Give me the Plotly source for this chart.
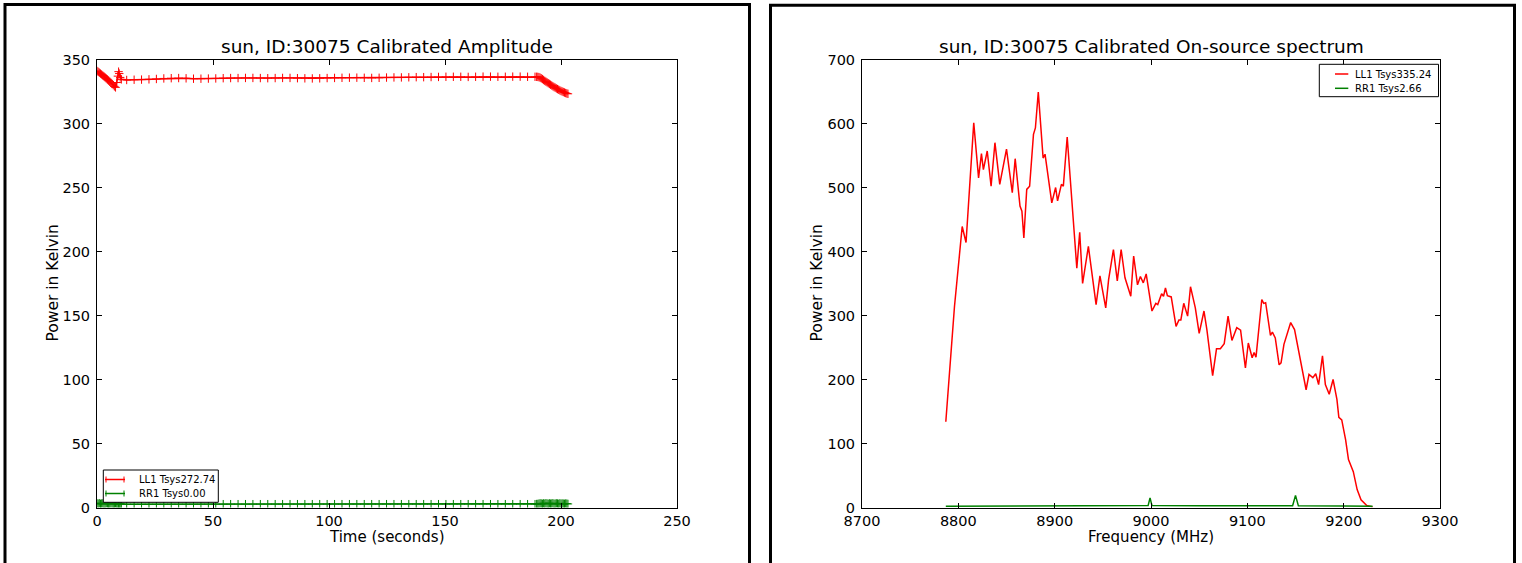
import plotly.graph_objects as go

# ---------------- data: left panel (amplitude vs time) ----------------
amp_time = [0.0, 0.5, 1.0, 1.5, 2.0, 2.5, 3.0, 3.5, 4.0, 4.5, 5.0, 5.5, 6.0, 6.5, 7.0, 7.5, 8.0,
            8.5, 9.0, 9.3, 9.6, 10.0, 10.5,
            12.8, 16.0, 19.2, 22.4, 25.6, 28.8, 32.0, 35.2, 38.4, 41.6, 44.8, 48.0, 51.2, 54.4,
            57.6, 60.8, 64.0, 67.2, 70.4, 73.6, 76.8, 80.0, 83.2, 86.4, 89.6, 92.8, 96.0, 99.2,
            102.4, 105.6, 108.8, 112.0, 115.2, 118.4, 121.6, 124.8, 128.0, 131.2, 134.4, 137.6,
            140.8, 144.0, 147.2, 150.4, 153.6, 156.8, 160.0, 163.2, 166.4, 169.6, 172.8, 176.0,
            179.2, 182.4, 185.6, 188.8,
            189.5, 190.0, 190.5, 191.0, 191.5, 192.0, 192.5, 193.0, 193.5, 194.0, 194.5, 195.0,
            195.5, 196.0, 196.5, 197.0, 197.5, 198.0, 198.5, 199.0, 199.5, 200.0, 200.5, 201.0,
            201.5, 202.0, 202.5, 203.0]

ll1_amp = [341.0, 340.4, 339.7, 339.0, 338.3, 337.5, 336.8, 336.0, 335.2, 334.4, 333.6, 332.7,
           331.8, 330.9, 330.0, 329.0, 328.2,
           332.0, 337.0, 340.5, 339.0, 336.0, 334.5,
           334.0, 334.2, 334.3, 334.5, 334.8, 335.2, 335.4, 335.5, 335.3, 335.0, 335.0, 335.1,
           335.2, 335.4, 335.5, 335.5, 335.6, 335.6, 335.5, 335.4, 335.5, 335.6, 335.6, 335.4,
           335.3, 335.2, 335.3, 335.5, 335.6, 335.7, 335.8, 335.8, 335.7, 335.6, 335.7, 335.9,
           336.0, 336.0, 336.1, 336.2, 336.2, 336.3, 336.4, 336.5, 336.5, 336.5, 336.4, 336.5,
           336.6, 336.6, 336.5, 336.5, 336.6, 336.6, 336.5, 336.5,
           336.5, 336.4, 336.2, 335.8, 335.3, 334.7, 334.0, 333.3, 332.7, 332.1, 331.5, 330.9,
           330.3, 329.7, 329.1, 328.5, 328.0, 327.4, 326.9, 326.4, 325.9, 325.4, 325.0, 324.6,
           324.2, 323.8, 323.5, 323.2]

rr1_amp = [3.2, 3.0, 3.3, 2.9, 3.1, 3.2, 2.8, 3.0, 3.3, 3.1, 2.9, 3.0, 3.2, 3.1, 2.9, 3.0, 3.2,
           3.0, 2.9, 3.1, 3.0, 2.8, 2.7,
           2.6, 2.6, 2.6, 2.6, 2.6, 2.6, 2.6, 2.6, 2.6, 2.6, 2.6, 2.6, 2.6, 2.6,
           2.6, 2.6, 2.6, 2.6, 2.6, 2.6, 2.6, 2.6, 2.6, 2.6, 2.6, 2.6, 2.6, 2.6,
           2.6, 2.6, 2.6, 2.6, 2.6, 2.6, 2.6, 2.6, 2.6, 2.6, 2.6, 2.6,
           2.6, 2.6, 2.6, 2.6, 2.6, 2.6, 2.6, 2.6, 2.6, 2.6, 2.6, 2.6,
           2.6, 2.6, 2.6, 2.6,
           2.7, 2.8, 3.0, 3.2, 3.1, 2.9, 3.2, 3.0, 3.3, 3.1, 2.9, 3.2, 3.0, 3.1, 3.3, 2.9,
           3.0, 3.2, 3.1, 2.9, 3.2, 3.0, 3.1, 3.0, 2.9, 3.1, 3.0, 2.8]

amp_legend = ["LL1 Tsys272.74", "RR1 Tsys0.00"]

# ---------------- data: right panel (spectrum) ----------------
freq_ll1 = [8787, 8793, 8796, 8804, 8808, 8816, 8821, 8824, 8826, 8830, 8834, 8838, 8843,
            8850, 8856, 8859, 8864, 8866, 8868, 8871, 8874, 8878, 8880, 8883, 8888, 8890,
            8897, 8901, 8903, 8907, 8909, 8913, 8923, 8926, 8929, 8935, 8943, 8947, 8953,
            8956, 8961, 8965, 8969, 8973, 8979, 8982, 8986, 8989, 8992, 8995, 9001, 9005,
            9007, 9011, 9013, 9015, 9017, 9021, 9026, 9029, 9031, 9034, 9038, 9041, 9046,
            9050, 9055, 9058, 9064, 9068, 9072, 9076, 9080, 9084, 9089, 9093, 9098, 9101,
            9105, 9107, 9109, 9115, 9117, 9119, 9124, 9126, 9129, 9133, 9135, 9138, 9145,
            9149, 9155, 9161, 9164, 9168, 9171, 9174, 9178, 9181, 9185, 9189, 9193, 9195,
            9198, 9202, 9205, 9210, 9214, 9218, 9224, 9230]

ll1_spec = [134, 260, 314, 439, 414, 601, 515, 553, 528, 557, 502, 570, 505,
            560, 492, 545, 471, 463, 421, 497, 502, 583, 593, 649, 546, 552,
            476, 500, 479, 505, 502, 579, 374, 430, 350, 408, 317, 362, 312,
            356, 403, 354, 403, 359, 330, 393, 348, 361, 351, 365, 307, 319,
            317, 334, 330, 343, 331, 329, 283, 293, 293, 319, 299, 345, 312,
            272, 307, 278, 206, 248, 248, 256, 299, 261, 281, 277, 218, 257,
            234, 242, 235, 325, 319, 320, 269, 274, 265, 223, 226, 255, 289,
            278, 231, 184, 208, 203, 209, 192, 237, 192, 177, 200, 169, 141,
            137, 106, 75, 56, 28, 12, 3, 1]

freq_rr1 = [8787, 8850, 8900, 8960, 8997, 8999, 9001, 9050, 9100, 9147, 9150, 9153, 9200, 9230]
rr1_spec = [2.0, 2.5, 3.0, 3.0, 3.0, 15.0, 3.0, 2.8, 2.6, 2.8, 19.0, 2.6, 2.3, 2.0]

spec_legend = ["LL1 Tsys335.24", "RR1 Tsys2.66"]

titles = ["sun, ID:30075 Calibrated Amplitude", "sun, ID:30075 Calibrated On-source spectrum"]
xlabels = ["Time (seconds)", "Frequency (MHz)"]
ylabel = "Power in Kelvin"

# ---------------- layout helpers (pixel -> paper) ----------------
W, H = 1522, 563
def px(x):
    return x / W
def py(y):
    return 1 - y / H

FONT = "DejaVu Sans"
RED = "#ff0000"
GREEN = "#008000"

fig = go.Figure()

# left panel traces
fig.add_trace(go.Scatter(x=amp_time, y=ll1_amp, mode="lines+markers", name=amp_legend[0],
                         line=dict(color=RED, width=1.5), showlegend=False,
                         marker=dict(symbol="cross-thin", size=6, color=RED, line=dict(width=1, color=RED)),
                         xaxis="x", yaxis="y"))
fig.add_trace(go.Scatter(x=amp_time, y=rr1_amp, mode="lines+markers", name=amp_legend[1],
                         line=dict(color=GREEN, width=1.5), showlegend=False,
                         marker=dict(symbol="cross-thin", size=6, color=GREEN, line=dict(width=1, color=GREEN)),
                         xaxis="x", yaxis="y"))

# right panel traces
fig.add_trace(go.Scatter(x=freq_ll1, y=ll1_spec, mode="lines", name=spec_legend[0],
                         line=dict(color=RED, width=1.5), showlegend=False,
                         xaxis="x2", yaxis="y2"))
fig.add_trace(go.Scatter(x=freq_rr1, y=rr1_spec, mode="lines", name=spec_legend[1],
                         line=dict(color=GREEN, width=1.5), showlegend=False,
                         xaxis="x2", yaxis="y2"))

ydom = [py(507.5), py(59.5)]
axis_common = dict(showline=True, linecolor="black", linewidth=1, mirror="ticks",
                   ticks="inside", ticklen=5, tickcolor="black", tickwidth=1,
                   showgrid=False, zeroline=False, automargin=False,
                   tickfont=dict(family=FONT, size=14.5, color="black"))

fig.update_layout(
    width=W, height=H,
    margin=dict(l=0, r=0, t=0, b=0, pad=0, autoexpand=False),
    paper_bgcolor="white", plot_bgcolor="white",
    showlegend=False,
    xaxis=dict(domain=[px(97), px(677)], range=[0, 250], dtick=50, anchor="y", **axis_common),
    yaxis=dict(domain=ydom, range=[0, 350], dtick=50, anchor="x", ticklabelstandoff=3, **axis_common),
    xaxis2=dict(domain=[px(862), px(1440)], range=[8700, 9300], dtick=100, anchor="y2", **axis_common),
    yaxis2=dict(domain=ydom, range=[0, 700], dtick=100, anchor="x2", ticklabelstandoff=3, **axis_common),
)

# titles and axis labels
annots = []
for cx, t in zip([387, 1151], titles):
    annots.append(dict(x=px(cx), y=py(46), xref="paper", yref="paper", text=t, showarrow=False,
                       xanchor="center", yanchor="middle",
                       font=dict(family=FONT, size=18.5, color="black")))
for cx, t in zip([387, 1151], xlabels):
    annots.append(dict(x=px(cx), y=py(537), xref="paper", yref="paper", text=t, showarrow=False,
                       xanchor="center", yanchor="middle",
                       font=dict(family=FONT, size=15, color="black")))
for cx in [52, 816]:
    annots.append(dict(x=px(cx), y=py(283.5), xref="paper", yref="paper", text=ylabel, showarrow=False,
                       xanchor="center", yanchor="middle", textangle=-90,
                       font=dict(family=FONT, size=15.5, color="black")))

shapes = []
# panel frames
for (x0, x1, y0) in [(5, 749.5, 4.5), (770.5, 1514.5, 5.3)]:
    shapes.append(dict(type="rect", xref="paper", yref="paper",
                       x0=px(x0), x1=px(x1), y0=-0.1, y1=py(y0),
                       line=dict(color="black", width=3), fillcolor="rgba(0,0,0,0)", layer="above"))

# matplotlib-style compact legends (box, handle lines, labels)
def add_legend(box, rows, names, colors, handle, text_x, with_marker):
    bx0, by0, bx1, by1 = box
    shapes.append(dict(type="rect", xref="paper", yref="paper",
                       x0=px(bx0), x1=px(bx1), y0=py(by1), y1=py(by0),
                       line=dict(color="black", width=1), fillcolor="white", layer="above"))
    for ry, name, col in zip(rows, names, colors):
        shapes.append(dict(type="line", xref="paper", yref="paper",
                           x0=px(handle[0]), x1=px(handle[1]), y0=py(ry), y1=py(ry),
                           line=dict(color=col, width=1.5), layer="above"))
        if with_marker:
            for hx in (handle[0] + 1, handle[1] - 1):
                shapes.append(dict(type="line", xref="paper", yref="paper",
                                   x0=px(hx), x1=px(hx), y0=py(ry - 3), y1=py(ry + 3),
                                   line=dict(color=col, width=1), layer="above"))
        annots.append(dict(x=px(text_x), y=py(ry), xref="paper", yref="paper", text=name,
                           showarrow=False, xanchor="left", yanchor="middle",
                           font=dict(family=FONT, size=10, color="black")))

add_legend((103.3, 470, 218.3, 502.3), [479.5, 493.5], amp_legend, [RED, GREEN],
           (105, 125), 136.5, True)
add_legend((1319.3, 64.3, 1438.5, 96.7), [74, 88.3], spec_legend, [RED, GREEN],
           (1335, 1348.3), 1353.3, False)

fig.update_layout(annotations=annots, shapes=shapes)

fig.write_html("out.html", config={"displayModeBar": False},
               post_script="document.body.style.margin='0';")
